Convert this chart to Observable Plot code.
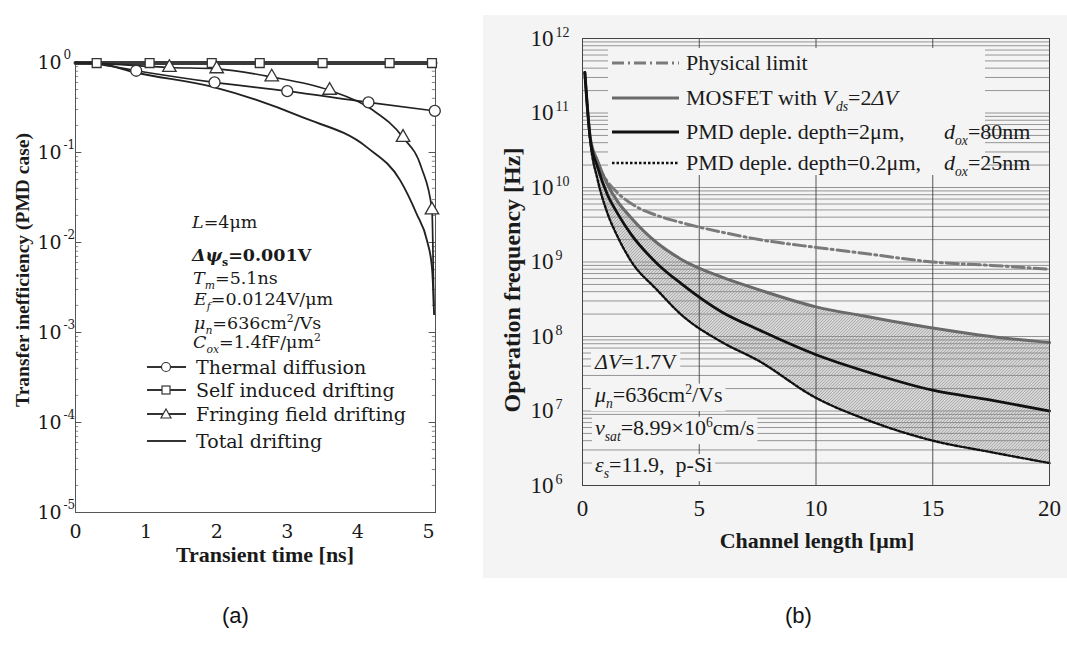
<!DOCTYPE html>
<html><head><meta charset="utf-8">
<script src="https://cdn.jsdelivr.net/npm/d3@7"></script>
<script src="https://cdn.jsdelivr.net/npm/@observablehq/plot@0.6"></script>
<style>
body{margin:0;background:#fff;width:1067px;height:650px;overflow:hidden;position:relative;}
#a{position:absolute;left:0;top:0;}
#bbg{position:absolute;left:483px;top:15px;width:584px;height:563px;background:#f4f4f4;}
#b{position:absolute;left:483px;top:0;}
.cap{position:absolute;top:603px;font-family:"Liberation Sans",Arial,sans-serif;font-size:22px;color:#111;}
</style></head><body>
<div id="bbg"></div>
<div id="a"></div><div id="b"></div>
<div class="cap" style="left:222px">(a)</div>
<div class="cap" style="left:785px">(b)</div>
<script>
// ================= Panel (a) data =================
const xTicksA = [0, 1, 2, 3, 4, 5];
const yExpA = [0, -1, -2, -3, -4, -5];
const minorMantissa = [2, 3, 4, 5, 6, 7, 8, 9];

const thermalT = [0, 0.3, 0.86, 1.97, 3.0, 4.15, 5.09];
const thermalV = [1.0, 0.96, 0.81, 0.60, 0.48, 0.36, 0.29];
const thermalMarkIdx = [2, 3, 4, 5, 6];

const selfT = [0, 0.3, 1.05, 1.93, 2.61, 3.5, 4.45, 5.05, 5.1];
const selfV = [0.985, 0.985, 0.985, 0.985, 0.985, 0.985, 0.985, 0.985, 0.985];
const selfMarkIdx = [1, 2, 3, 4, 5, 6, 7];

const fringeT = [0, 0.3, 1.33, 2.0, 2.78, 3.6, 4.2, 4.64, 4.9, 5.05, 5.075];
const fringeV = [1.0, 0.98, 0.88, 0.85, 0.69, 0.49, 0.30, 0.147, 0.068, 0.023, 0.002];
const fringeMarkIdx = [2, 3, 4, 5, 7, 9];

const totalT = [0, 0.3, 0.86, 1.97, 3.22, 4.13, 4.6, 4.83, 4.98, 5.05, 5.07, 5.08];
const totalV = [1.0, 0.98, 0.77, 0.53, 0.245, 0.114, 0.049, 0.021, 0.0105, 0.0053, 0.0027, 0.0016];

// ================= Panel (b) data =================
const xTicksB = [0, 5, 10, 15, 20];
const vGridB = [5, 10, 15];
const yExpB = [12, 11, 10, 9, 8, 7, 6];
const lenB   = [0.1, 0.34, 0.64, 1.07, 1.5, 2.06, 3.2, 4.2, 6, 7.5, 10, 12, 15, 17.5, 20];
const mosfetF = [3.5e11, 4.5e10, 2.3e10, 1.1e10, 6.5e9, 4.0e9, 1.8e9, 1.1e9, 6.2e8, 4.3e8, 2.5e8, 1.9e8, 1.3e8, 1.0e8, 8.3e7];
const pmd2F   = [3.5e11, 4.3e10, 1.9e10, 8.0e9, 4.5e9, 2.4e9, 9.5e8, 5.2e8, 2.1e8, 1.25e8, 5.7e7, 3.5e7, 1.9e7, 1.4e7, 1.0e7];
const pmd02F  = [3.5e11, 4.0e10, 1.3e10, 4.5e9, 2.2e9, 1.05e9, 4.2e8, 2.0e8, 8.3e7, 4.8e7, 1.5e7, 8.0e6, 4.0e6, 2.8e6, 2.0e6];
const limitL = [0.64, 1.07, 1.5, 2.36, 3.2, 4.2, 6, 8, 10, 12.5, 15, 17.5, 20];
const limitF = [2.0e10, 1.2e10, 8.5e9, 5.4e9, 4.2e9, 3.4e9, 2.5e9, 1.9e9, 1.57e9, 1.25e9, 1.0e9, 9.0e8, 8.0e8];

// ================= helpers =================
const SERIF = "'Liberation Serif','Times New Roman',serif";
const DSERIF = "'DejaVu Serif',serif";
const rowsOf = (T, V) => T.map((t, i) => ({t, v: V[i]}));
const pick = (rows, idx) => idx.map(i => rows[i]);

function rich(svg, x, y, segs, size, family, extra = {}) {
  const t = svg.append("text").attr("x", x).attr("y", y).attr("font-size", size)
    .attr("font-family", family).attr("fill", "#1a1a1a").attr("text-anchor", "start");
  for (const [k, v] of Object.entries(extra)) t.attr(k, v);
  let shift = 0;
  for (const s of segs) {
    const seg = typeof s === "string" ? {t: s} : s;
    const target = seg.sub ? size * 0.28 : seg.sup ? -size * 0.38 : 0;
    const ts = t.append("tspan").text(seg.t).attr("dy", target - shift);
    shift = target;
    if (seg.sub || seg.sup) ts.attr("font-size", size * 0.62);
    if (seg.i) ts.attr("font-style", "italic");
    if (seg.b) ts.attr("font-weight", "bold");
  }
  return t;
}

// ================= Panel (a) =================
const thermal = rowsOf(thermalT, thermalV);
const selfD = rowsOf(selfT, selfV);
const fringe = rowsOf(fringeT, fringeV);
const total = rowsOf(totalT, totalV);
const majorA = yExpA.map(e => 10 ** e);
const minorA = yExpA.slice(1).flatMap(e => minorMantissa.map(m => m * 10 ** e));

const plotA = Plot.plot({
  width: 480, height: 580,
  marginLeft: 75, marginRight: 45, marginTop: 62, marginBottom: 68,
  style: {fontFamily: DSERIF, fontSize: "19px", color: "#1a1a1a", background: "transparent", overflow: "visible"},
  x: {domain: [0, 5.1]},
  y: {type: "log", domain: [1e-5, 1], axis: null},
  marks: [
    Plot.ruleY(majorA, {x1: 0, x2: 0.09, stroke: "#555"}),
    Plot.ruleY(minorA, {x1: 0, x2: 0.045, stroke: "#888"}),
    Plot.ruleY(majorA, {x1: 5.01, x2: 5.1, stroke: "#555"}),
    Plot.ruleY(minorA, {x1: 5.055, x2: 5.1, stroke: "#888"}),
    Plot.frame({stroke: "#555"}),
    Plot.axisX({ticks: xTicksA, tickFormat: d => String(d), tickSize: 0, tickPadding: 12, label: null, fontSize: 19, fontFamily: DSERIF}),
    Plot.line(selfD, {x: "t", y: "v", stroke: "#3a3a3a", strokeWidth: 4}),
    Plot.line(thermal, {x: "t", y: "v", stroke: "#222", strokeWidth: 1.7, curve: "monotone-x"}),
    Plot.line(fringe, {x: "t", y: "v", stroke: "#222", strokeWidth: 1.7, curve: "monotone-x"}),
    Plot.line(total, {x: "t", y: "v", stroke: "#222", strokeWidth: 1.9, curve: "monotone-x"}),
    Plot.dot(pick(selfD, selfMarkIdx), {x: "t", y: "v", symbol: "square", r: 5, fill: "white", stroke: "#333", strokeWidth: 1.3}),
    Plot.dot(pick(thermal, thermalMarkIdx), {x: "t", y: "v", symbol: "circle", r: 5.5, fill: "white", stroke: "#333", strokeWidth: 1.3}),
    Plot.dot(pick(fringe, fringeMarkIdx), {x: "t", y: "v", symbol: "triangle", r: 5, fill: "white", stroke: "#333", strokeWidth: 1.3}),
    Plot.text(yExpA, {x: 0, y: e => 10 ** e, text: () => "10", dx: -38, textAnchor: "start", fontSize: 19, fontFamily: DSERIF}),
    Plot.text(yExpA, {x: 0, y: e => 10 ** e, text: e => String(e), dx: -12, dy: -7, textAnchor: "start", fontSize: 12, fontFamily: DSERIF})
  ]
});
document.getElementById("a").appendChild(plotA);
const sA = d3.select(plotA);

// parameter text (a)
const fsA = 17.5;
rich(sA, 192, 228, [{t: "L", i: 1}, "=4μm"], fsA, DSERIF);
rich(sA, 192, 261, [{t: "Δ", i: 1, b: 1}, {t: "ψ", i: 1, b: 1}, {t: "s", sub: 1, b: 1}, {t: "=0.001V", b: 1}], fsA, DSERIF);
rich(sA, 193, 284, [{t: "T", i: 1}, {t: "m", sub: 1, i: 1}, "=5.1ns"], fsA, DSERIF);
rich(sA, 194, 305, [{t: "E", i: 1}, {t: "f", sub: 1, i: 1}, "=0.0124V/μm"], fsA, DSERIF);
rich(sA, 194, 329, [{t: "μ", i: 1}, {t: "n", sub: 1, i: 1}, "=636cm", {t: "2", sup: 1}, "/Vs"], fsA, DSERIF);
rich(sA, 193, 348, [{t: "C", i: 1}, {t: "ox", sub: 1, i: 1}, "=1.4fF/μm", {t: "2", sup: 1}], fsA, DSERIF);

// legend (a)
const legA = [
  {label: "Thermal diffusion", y: 367, sym: "circle"},
  {label: "Self induced drifting", y: 390, sym: "square"},
  {label: "Fringing field drifting", y: 414, sym: "triangle"},
  {label: "Total drifting", y: 441, sym: null}
];
for (const L of legA) {
  sA.append("line").attr("x1", 147).attr("x2", 186).attr("y1", L.y).attr("y2", L.y).attr("stroke", "#333").attr("stroke-width", 1.8);
  if (L.sym === "circle") sA.append("circle").attr("cx", 166).attr("cy", L.y).attr("r", 4.5).attr("fill", "white").attr("stroke", "#333").attr("stroke-width", 1.2);
  if (L.sym === "square") sA.append("rect").attr("x", 162).attr("y", L.y - 4).attr("width", 8).attr("height", 8).attr("fill", "white").attr("stroke", "#333").attr("stroke-width", 1.2);
  if (L.sym === "triangle") sA.append("path").attr("d", `M166,${L.y - 5}L171,${L.y + 4}L161,${L.y + 4}Z`).attr("fill", "white").attr("stroke", "#333").attr("stroke-width", 1.2);
  rich(sA, 196, L.y + 7, [L.label], 19, DSERIF);
}
// axis titles (a)
rich(sA, 265, 562, [{t: "Transient time [ns]", b: 1}], 22, SERIF, {"text-anchor": "middle"});
rich(sA, 0, 0, [{t: "Transfer inefficiency (PMD case)", b: 1}], 19.5, SERIF, {"text-anchor": "middle", transform: "translate(29,270) rotate(-90)"});

// ================= Panel (b) =================
const bandB = lenB.map((L, i) => ({L, hi: mosfetF[i], lo: pmd02F[i], m: mosfetF[i], p2: pmd2F[i], p02: pmd02F[i]}));
const limitB = limitL.map((L, i) => ({L, f: limitF[i]}));
const gridB = [1e12, ...yExpB.slice(1).flatMap(e => [1, ...minorMantissa].map(m => m * 10 ** e))];

const plotB = Plot.plot({
  width: 584, height: 580,
  marginLeft: 99, marginRight: 18, marginTop: 38, marginBottom: 95,
  style: {fontFamily: SERIF, fontSize: "23px", color: "#1a1a1a", background: "transparent", overflow: "visible"},
  x: {domain: [0, 20]},
  y: {type: "log", domain: [1e6, 1e12], axis: null},
  marks: [
    Plot.areaY(bandB, {x: "L", y1: "lo", y2: "hi", fill: "url(#hatchB)", curve: "monotone-x"}),
    Plot.ruleY(gridB, {stroke: "#8a8a8a", strokeWidth: 0.9}),
    Plot.ruleX(vGridB, {stroke: "#444", strokeWidth: 0.9}),
    Plot.line(limitB, {x: "L", y: "f", stroke: "#7a7a7a", strokeWidth: 3, strokeDasharray: "12,4,2,4", curve: "monotone-x"}),
    Plot.line(bandB, {x: "L", y: "m", stroke: "#6a6a6a", strokeWidth: 3, curve: "monotone-x"}),
    Plot.line(bandB, {x: "L", y: "p02", stroke: "#111", strokeWidth: 2.4, strokeDasharray: "2.5,2", curve: "monotone-x"}),
    Plot.line(bandB, {x: "L", y: "p2", stroke: "#111", strokeWidth: 2.8, curve: "monotone-x"}),
    Plot.frame({stroke: "#444"}),
    Plot.axisX({ticks: xTicksB, tickFormat: d => String(d), tickSize: 0, tickPadding: 14, label: null, fontSize: 23, fontFamily: SERIF}),
    Plot.text(yExpB, {x: 0, y: e => 10 ** e, text: () => "10", dx: -52, textAnchor: "start", fontSize: 23, fontFamily: SERIF}),
    Plot.text(yExpB, {x: 0, y: e => 10 ** e, text: e => String(e), dx: -27, dy: -6, textAnchor: "start", fontSize: 14, fontFamily: SERIF})
  ]
});
document.getElementById("b").appendChild(plotB);
const sB = d3.select(plotB);
const defs = sB.insert("defs", ":first-child");
const pat = defs.append("pattern").attr("id", "hatchB").attr("patternUnits", "userSpaceOnUse").attr("width", 3).attr("height", 3);
pat.append("rect").attr("width", 3).attr("height", 3).attr("fill", "#d6d6d6");
pat.append("path").attr("d", "M0,3L3,0").attr("stroke", "#909090").attr("stroke-width", 0.6);

// legend (b)
const BG = "#f4f4f4";
sB.append("rect").attr("x", 125).attr("y", 48).attr("width", 377).attr("height", 127).attr("fill", BG);
const legB = [
  {y: 63, stroke: "#7a7a7a", w: 3, dash: "12,4,2,4", segs: ["Physical limit"]},
  {y: 98, stroke: "#6a6a6a", w: 3, dash: null, segs: ["MOSFET with ", {t: "V", i: 1}, {t: "ds", sub: 1, i: 1}, "=2", {t: "ΔV", i: 1}]},
  {y: 132, stroke: "#111", w: 2.8, dash: null, segs: ["PMD deple. depth=2μm,"], dox: "=80nm"},
  {y: 163, stroke: "#111", w: 2.4, dash: "2.5,2", segs: ["PMD deple. depth=0.2μm,"], dox: "=25nm"}
];
for (const L of legB) {
  const ln = sB.append("line").attr("x1", 129).attr("x2", 196).attr("y1", L.y).attr("y2", L.y).attr("stroke", L.stroke).attr("stroke-width", L.w);
  if (L.dash) ln.attr("stroke-dasharray", L.dash);
  rich(sB, 203, L.y + 7, L.segs, 22, SERIF);
  if (L.dox) rich(sB, 461, L.y + 7, [{t: "d", i: 1}, {t: "ox", sub: 1, i: 1}, L.dox], 22, SERIF);
}
// parameter text (b)
const parB = [
  {y: 369, segs: [{t: "ΔV", i: 1}, "=1.7V"]},
  {y: 402, segs: [{t: "μ", i: 1}, {t: "n", sub: 1, i: 1}, "=636cm", {t: "2", sup: 1}, "/Vs"]},
  {y: 435, segs: [{t: "v", i: 1}, {t: "sat", sub: 1, i: 1}, "=8.99×10", {t: "6", sup: 1}, "cm/s"]},
  {y: 472, segs: [{t: "ε", i: 1}, {t: "s", sub: 1, i: 1}, "=11.9,  p-Si"]}
];
for (const P of parB) {
  const t = rich(sB, 112, P.y, P.segs, 22, SERIF);
  const bb = t.node().getBBox();
  sB.insert("rect", () => t.node()).attr("x", bb.x - 3).attr("y", bb.y + 2).attr("width", bb.width + 6).attr("height", bb.height - 2).attr("fill", BG);
}
// axis titles (b)
rich(sB, 334, 548, [{t: "Channel length [μm]", b: 1}], 22, SERIF, {"text-anchor": "middle"});
rich(sB, 0, 0, [{t: "Operation frequency [Hz]", b: 1}], 24, SERIF, {"text-anchor": "middle", transform: "translate(37,280) rotate(-90)"});
</script>
</body></html>
